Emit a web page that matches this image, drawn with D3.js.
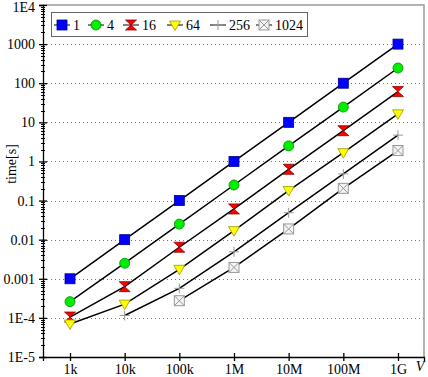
<!DOCTYPE html>
<html>
<head>
<meta charset="utf-8">
<script src="https://cdn.jsdelivr.net/npm/d3@7"></script>
<style>
  body { margin: 0; background: #fff; }
  svg text { font-family: 'Liberation Serif', 'Times New Roman', 'DejaVu Serif', serif; font-size: 14px; fill: #000; }
</style>
</head>
<body>
<div id="chart"></div>
<script>
const sizes = [1e3, 1e4, 1e5, 1e6, 1e7, 1e8, 1e9];
const xTickLabels = ['1k', '10k', '100k', '1M', '10M', '100M', '1G'];
const yTicks = [1e4, 1e3, 1e2, 1e1, 1, 0.1, 0.01, 0.001, 1e-4, 1e-5];
const yTickLabels = ['1E4', '1000', '100', '10', '1', '0.1', '0.01', '0.001', '1E-4', '1E-5'];

const seriesNames = ['1', '4', '16', '64', '256', '1024'];
const t1 = [0.001, 0.01, 0.1, 1, 10, 100, 1000];
const t4 = [2.6e-4, 2.5e-3, 0.025, 0.25, 2.5, 24.5, 245];
const t16 = [1.05e-4, 6.3e-4, 6.4e-3, 0.061, 0.63, 6.1, 61];
const t64 = [7e-5, 2.25e-4, 1.75e-3, 0.017, 0.18, 1.68, 16.5];
const t256 = [null, 1.15e-4, 5.7e-4, 4.9e-3, 0.049, 0.48, 4.7];
const t1024 = [null, null, 2.75e-4, 1.95e-3, 0.0188, 0.205, 1.9];
const seriesValues = [t1, t4, t16, t64, t256, t1024];

const width = 428, height = 377;
const margin = { left: 43, right: 4, top: 5, bot: 20 };
const serif = "'Liberation Serif', 'Times New Roman', 'DejaVu Serif', serif";

const xScale = d3.scaleLog()
  .domain([Math.pow(10, 2.506), Math.pow(10, 9.476)])
  .range([margin.left, width - margin.right]);
const yScale = d3.scaleLog()
  .domain([1e-5, 1e4])
  .range([height - margin.bot, margin.top]);

const svg = d3.select('#chart').append('svg')
  .attr('width', width)
  .attr('height', height)
  .attr('font-family', serif);

const x0 = margin.left, x1 = width - margin.right;
const y0 = height - margin.bot, y1 = margin.top;

// dotted grid at the decades
svg.append('g')
  .selectAll('line')
  .data(yTicks.filter((d) => d < 1e4 && d > 1e-5))
  .enter().append('line')
    .attr('x1', x0).attr('x2', x1)
    .attr('y1', (d) => Math.round(yScale(d)) + 0.5).attr('y2', (d) => Math.round(yScale(d)) + 0.5)
    .attr('stroke', '#777')
    .attr('stroke-width', 1)
    .attr('stroke-dasharray', '1,3');

// frame (top / right in grey)
svg.append('path')
  .attr('d', `M${x0},${y1}H${x1}V${y0}`)
  .attr('fill', 'none')
  .attr('stroke', '#999')
  .attr('stroke-width', 1.5);

// minor y ticks
const minor = [];
for (let e = -5; e < 4; e++) {
  for (let k = 2; k <= 9; k++) minor.push(k * Math.pow(10, e));
}
svg.append('g')
  .selectAll('line')
  .data(minor)
  .enter().append('line')
    .attr('x1', x0 - 2).attr('x2', x0 + 2)
    .attr('y1', (d) => Math.round(yScale(d)) + 0.5)
    .attr('y2', (d) => Math.round(yScale(d)) + 0.5)
    .attr('stroke', '#000');

const yAxis = d3.axisLeft(yScale)
  .tickValues(yTicks)
  .tickFormat((d, i) => yTickLabels[i])
  .tickSize(4)
  .tickPadding(4);

const gy = svg.append('g')
  .attr('transform', `translate(${x0},0)`)
  .call(yAxis)
  .attr('font-family', serif)
  .attr('font-size', 14);
gy.select('.domain').attr('stroke', '#000').attr('stroke-width', 1.3);
gy.selectAll('.tick line').attr('x1', 4).attr('stroke-width', 1.3);
gy.selectAll('.tick text').attr('dy', (d) => d === 1e4 ? '0.45em' : '0.32em');

const xAxis = d3.axisBottom(xScale)
  .tickValues(sizes)
  .tickFormat((d, i) => xTickLabels[i])
  .tickSize(4)
  .tickPadding(3);

const gx = svg.append('g')
  .attr('transform', `translate(0,${y0})`)
  .call(xAxis)
  .attr('font-family', serif)
  .attr('font-size', 14);
gx.select('.domain').attr('stroke', '#000').attr('stroke-width', 1.3);
gx.selectAll('.tick line').attr('y1', -4).attr('stroke-width', 1.3);

svg.append('text')
  .attr('x', 420).attr('y', 371)
  .attr('text-anchor', 'middle')
  .style('font-style', 'italic')
  .text('V');

svg.append('text')
  .attr('transform', `translate(16,${(y0 + y1) / 2 - 17}) rotate(-90)`)
  .attr('text-anchor', 'middle')
  .text('time[s]');

// markers
const styles = [
  { type: 'square', fill: '#0000ff', stroke: '#00008b' },
  { type: 'circle', fill: '#00ee00', stroke: '#008800' },
  { type: 'bowtie', fill: '#ff0000', stroke: '#8b0000' },
  { type: 'tridown', fill: '#ffff00', stroke: '#999900' },
  { type: 'plus', fill: 'none', stroke: '#999' },
  { type: 'boxx', fill: '#f4f4f4', stroke: '#999' }
];

function drawMarker(g, type, fill, stroke) {
  if (type === 'square') {
    g.append('rect').attr('x', -5).attr('y', -5).attr('width', 10).attr('height', 10)
      .attr('fill', fill).attr('stroke', stroke).attr('stroke-width', 0.8);
  } else if (type === 'circle') {
    g.append('circle').attr('r', 5).attr('fill', fill).attr('stroke', stroke).attr('stroke-width', 0.8);
  } else if (type === 'bowtie') {
    g.append('path').attr('d', 'M-5.5,-5H5.5L-5.5,5H5.5Z')
      .attr('fill', fill).attr('stroke', stroke).attr('stroke-width', 0.8);
  } else if (type === 'tridown') {
    g.append('path').attr('d', 'M-5.5,-4H5.5L0,5.5Z')
      .attr('fill', fill).attr('stroke', stroke).attr('stroke-width', 0.8);
  } else if (type === 'plus') {
    g.append('path').attr('d', 'M-5,0H5M0,-5V5')
      .attr('fill', 'none').attr('stroke', stroke).attr('stroke-width', 1);
  } else {
    g.append('rect').attr('x', -5).attr('y', -5).attr('width', 10).attr('height', 10)
      .attr('fill', fill).attr('stroke', stroke).attr('stroke-width', 1);
    g.append('path').attr('d', 'M-5,-5L5,5M5,-5L-5,5')
      .attr('fill', 'none').attr('stroke', stroke).attr('stroke-width', 1);
  }
}

const line = d3.line()
  .defined((d) => d.v !== null)
  .x((d) => xScale(d.x))
  .y((d) => yScale(d.v));

seriesValues.forEach((vals) => {
  const pts = vals.map((v, i) => ({ x: sizes[i], v: v }));
  svg.append('path')
    .datum(pts)
    .attr('d', line)
    .attr('fill', 'none')
    .attr('stroke', '#000')
    .attr('stroke-width', 1.5);
});

seriesValues.forEach((vals, si) => {
  const st = styles[si];
  vals.forEach((v, i) => {
    if (v === null) return;
    const g = svg.append('g')
      .attr('transform', `translate(${xScale(sizes[i])},${yScale(v)})`);
    drawMarker(g, st.type, st.fill, st.stroke);
  });
});

// legend
const legend = svg.append('g');
legend.append('rect')
  .attr('x', 51.5).attr('y', 12.5).attr('width', 256).attr('height', 24)
  .attr('fill', '#fff').attr('stroke', '#666').attr('stroke-width', 1);

const legendX = [62, 96, 131, 175, 218, 264];
seriesNames.forEach((name, i) => {
  const st = styles[i];
  const g = legend.append('g').attr('transform', `translate(${legendX[i]},25)`);
  g.append('line').attr('x1', -8).attr('x2', 8).attr('stroke', '#000').attr('stroke-width', 1);
  drawMarker(g, st.type, st.fill, st.stroke);
  legend.append('text')
    .attr('x', legendX[i] + 11).attr('y', 30)
    .text(name);
});
</script>
</body>
</html>
